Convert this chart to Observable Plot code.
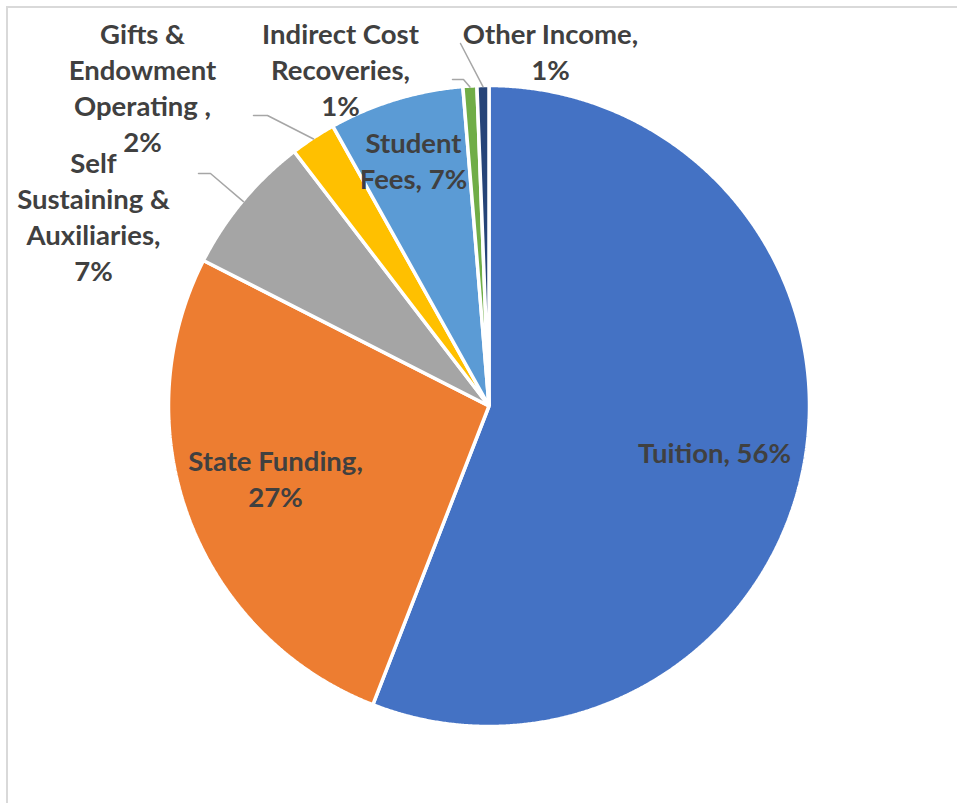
<!DOCTYPE html>
<html>
<head>
<meta charset="utf-8">
<script src="https://cdn.jsdelivr.net/npm/d3@7"></script>
<script src="https://cdn.jsdelivr.net/npm/@observablehq/plot@0.6"></script>
<style>
  html, body { margin: 0; padding: 0; background: #fff; overflow: hidden; }
  #frame { position: absolute; left: 6px; top: 6px; width: 1200px; height: 1200px;
           border-left: 2px solid #d9d9d9; border-top: 2px solid #d9d9d9; box-sizing: border-box; }
  #chart { position: absolute; left: 0; top: 0; }
</style>
</head>
<body>
<div id="frame"></div>
<div id="chart"></div>
<script>
// ---- data ----
const categories = [
  "Tuition",
  "State Funding",
  "Self Sustaining & Auxiliaries",
  "Gifts & Endowment Operating ",
  "Student Fees",
  "Indirect Cost Recoveries",
  "Other Income"
];
const shares = [55.9, 26.6, 7.1, 2.3, 6.8, 0.7, 0.6];
const colors = ["#4472C4", "#ED7D31", "#A5A5A5", "#FFC000", "#5B9BD5", "#70AD47", "#264478"];
// label text broken into lines as in the reference
const labelLines = [
  ["Tuition,"],
  ["State Funding,"],
  ["Self", "Sustaining &", "Auxiliaries,"],
  ["Gifts &", "Endowment", "Operating ,"],
  ["Student", "Fees,"],
  ["Indirect Cost", "Recoveries,"],
  ["Other Income,"]
];

// ---- layout ----
const W = 957, H = 803;
const cx = 488.5, cy = 405.5, R = 320.5;
const FS = 27.5, LH = 36;
// label block centres (pixels) and whether percent sits on same line
const labelLayout = [
  {x: 714, y: 451, sameLine: true},
  {x: 275, y: 476.5, sameLine: false},
  {x: 93,  y: 214.5, sameLine: false},
  {x: 142, y: 85.5,  sameLine: false},
  {x: 413, y: 159, sameLine: true},
  {x: 340, y: 67.5,  sameLine: false},
  {x: 550, y: 49.5,  sameLine: false}
];
// leader elbows (pixels), null = no leader
const leaderLayout = [null, null,
  [[198, 173], [210, 173]],
  [[253, 115], [267, 115]],
  null,
  [[452, 79], [463, 79]],
  [[460, 43]]
];

const total = d3.sum(shares);
const arcs = d3.pie().sort(null).value(d => d)(shares);

// slice polygons
const slicePts = [];
arcs.forEach((a, i) => {
  slicePts.push({cat: categories[i], x: cx, y: cy});
  const n = Math.max(4, Math.ceil((a.endAngle - a.startAngle) / (Math.PI / 720)));
  for (let k = 0; k <= n; k++) {
    const t = a.startAngle + (a.endAngle - a.startAngle) * k / n;
    slicePts.push({cat: categories[i], x: cx + R * Math.sin(t), y: cy - R * Math.cos(t)});
  }
});

// labels
const labelData = categories.map((c, i) => {
  const pct = Math.round(shares[i] / total * 100) + "%";
  const lines = labelLines[i].slice();
  if (labelLayout[i].sameLine) lines[lines.length - 1] += " " + pct;
  else lines.push(pct);
  return {cat: c, x: labelLayout[i].x, y: labelLayout[i].y, text: lines.join("\n")};
});

// leader lines: from elbow(s) to slice rim at mid-angle
const leaderPts = [];
arcs.forEach((a, i) => {
  const L = leaderLayout[i];
  if (!L) return;
  L.forEach(p => leaderPts.push({cat: categories[i], x: p[0], y: p[1]}));
  const m = (a.startAngle + a.endAngle) / 2;
  leaderPts.push({cat: categories[i], x: cx + (R - 1) * Math.sin(m), y: cy - (R - 1) * Math.cos(m)});
});

const chart = Plot.plot({
  width: W, height: H,
  margin: 0,
  x: {domain: [0, W], range: [0, W], axis: null},
  y: {domain: [0, H], range: [0, H], axis: null},
  color: {domain: categories, range: colors},
  style: {background: "transparent", overflow: "visible"},
  marks: [
    Plot.line(slicePts, {x: "x", y: "y", z: "cat", fill: "cat", stroke: "white",
      strokeWidth: 3.5, strokeLinejoin: "miter", curve: "linear-closed"}),
    Plot.line(leaderPts, {x: "x", y: "y", z: "cat", stroke: "#A6A6A6", strokeWidth: 1.5}),
    Plot.text(labelData, {x: "x", y: "y", text: "text", fontSize: FS, fontWeight: "bold",
      fontFamily: "Lato", fill: "#404040", lineHeight: LH / FS, lineAnchor: "middle"})
  ]
});
document.getElementById("chart").appendChild(chart);
</script>
</body>
</html>
